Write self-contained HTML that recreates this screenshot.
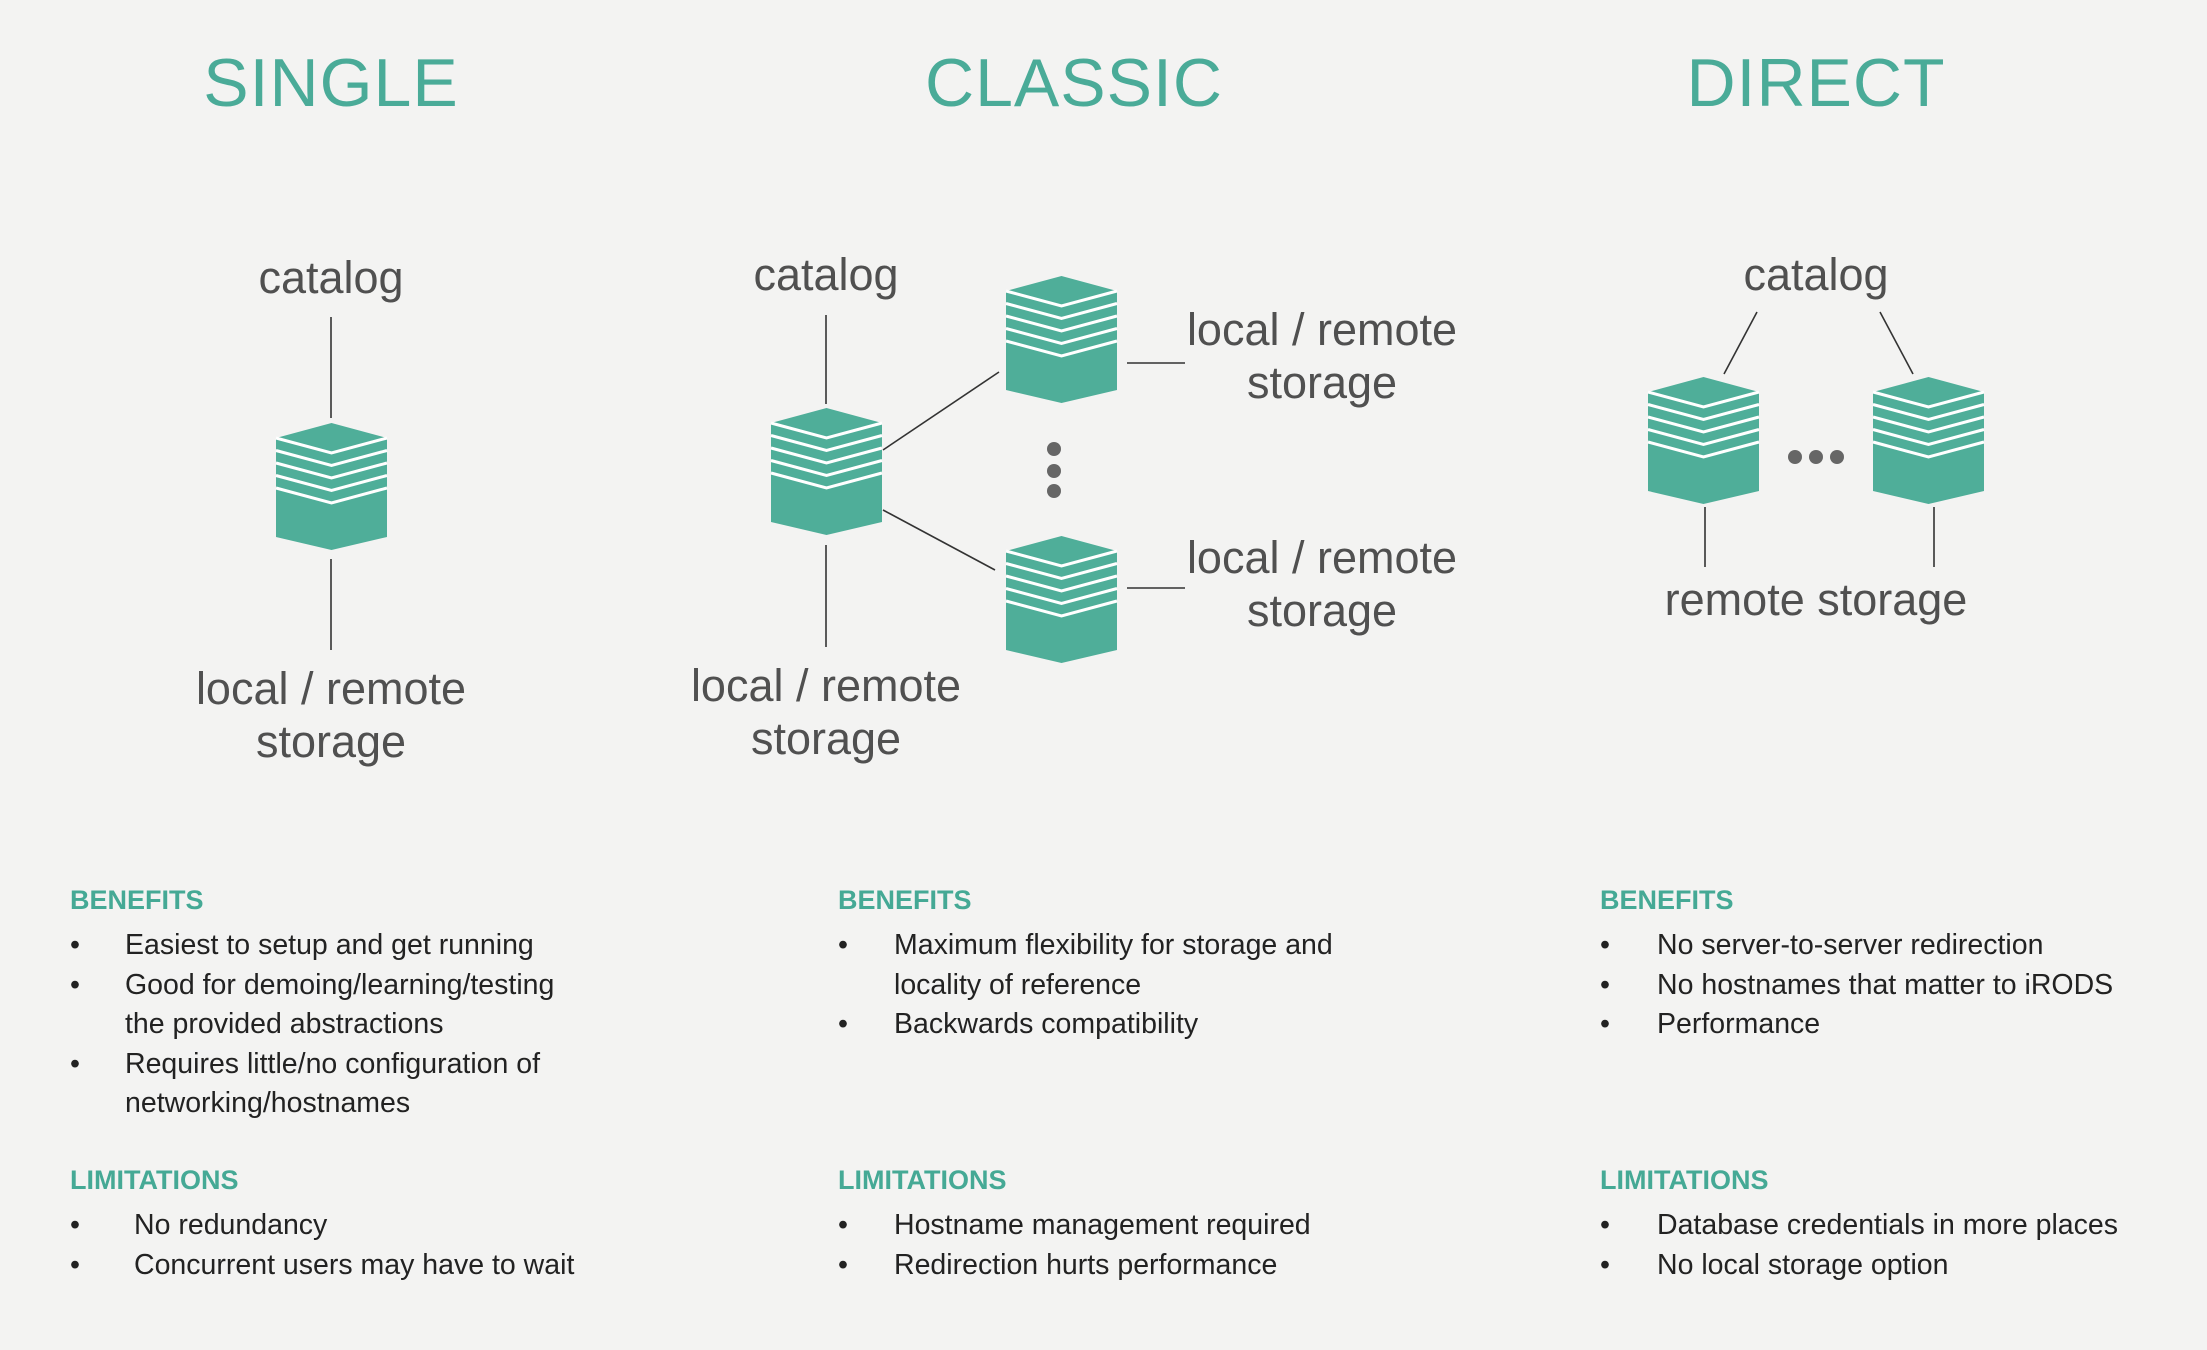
<!DOCTYPE html>
<html><head><meta charset="utf-8"><style>
html,body{margin:0;padding:0;background:#f3f3f2;}
svg{display:block;}
text{font-family:"Liberation Sans",sans-serif;}
.t{fill:#4aab98;font-size:68px;letter-spacing:1px;text-anchor:middle;}
.l{fill:#505050;font-size:45px;text-anchor:middle;}
.h{fill:#45a995;font-size:27px;font-weight:bold;}
.b{fill:#222;font-size:28.5px;}
.ln{stroke:#333;stroke-width:1.6;fill:none;}
</style></head><body>
<svg width="2207" height="1350" viewBox="0 0 2207 1350" xmlns="http://www.w3.org/2000/svg">
<defs>
<g id="cube">
<polygon points="55.5,0 111,15 111,114 55.5,127 0,114 0,15" fill="#4fae99"/>
<g stroke="#fff" stroke-width="3" fill="none">
<polyline points="0,15 55.5,30 111,15"/>
<polyline points="0,27.5 55.5,42.5 111,27.5"/>
<polyline points="0,40 55.5,55 111,40"/>
<polyline points="0,52.5 55.5,67.5 111,52.5"/>
<polyline points="0,65 55.5,80 111,65"/>
</g>
</g>
</defs>

<text class="t" x="331" y="106">SINGLE</text>
<text class="t" x="1074" y="106">CLASSIC</text>
<text class="t" x="1816" y="106">DIRECT</text>

<!-- SINGLE -->
<text class="l" x="331" y="293">catalog</text>
<line class="ln" x1="331" y1="317" x2="331" y2="418"/>
<use href="#cube" x="276" y="423"/>
<line class="ln" x1="331" y1="559" x2="331" y2="650"/>
<text class="l" x="331" y="704">local / remote</text>
<text class="l" x="331" y="757">storage</text>

<!-- CLASSIC -->
<text class="l" x="826" y="290">catalog</text>
<line class="ln" x1="826" y1="315" x2="826" y2="404"/>
<use href="#cube" x="771" y="408"/>
<line class="ln" x1="826" y1="545" x2="826" y2="647"/>
<text class="l" x="826" y="701">local / remote</text>
<text class="l" x="826" y="754">storage</text>
<use href="#cube" x="1006" y="276"/>
<use href="#cube" x="1006" y="536"/>
<line class="ln" x1="883" y1="450" x2="999" y2="372"/>
<line class="ln" x1="883" y1="510" x2="995" y2="570"/>
<line class="ln" x1="1127" y1="363" x2="1185" y2="363"/>
<line class="ln" x1="1127" y1="588" x2="1185" y2="588"/>
<text class="l" x="1322" y="345">local / remote</text>
<text class="l" x="1322" y="398">storage</text>
<text class="l" x="1322" y="573">local / remote</text>
<text class="l" x="1322" y="626">storage</text>
<circle cx="1054" cy="449" r="7" fill="#666"/>
<circle cx="1054" cy="471" r="7" fill="#666"/>
<circle cx="1054" cy="491" r="7" fill="#666"/>

<!-- DIRECT -->
<text class="l" x="1816" y="290">catalog</text>
<line class="ln" x1="1757" y1="312" x2="1724" y2="374"/>
<line class="ln" x1="1880" y1="312" x2="1913" y2="374"/>
<use href="#cube" x="1648" y="377"/>
<use href="#cube" x="1873" y="377"/>
<circle cx="1795" cy="457" r="7" fill="#666"/>
<circle cx="1816" cy="457" r="7" fill="#666"/>
<circle cx="1837" cy="457" r="7" fill="#666"/>
<line class="ln" x1="1705" y1="507" x2="1705" y2="567"/>
<line class="ln" x1="1934" y1="507" x2="1934" y2="567"/>
<text class="l" x="1816" y="615">remote storage</text>

<!-- Col 1 -->
<text class="h" x="70" y="909">BENEFITS</text>
<g class="b">
<text x="70" y="954">•</text><text x="125" y="954">Easiest to setup and get running</text>
<text x="70" y="994">•</text><text x="125" y="994">Good for demoing/learning/testing</text>
<text x="125" y="1033">the provided abstractions</text>
<text x="70" y="1073">•</text><text x="125" y="1073">Requires little/no configuration of</text>
<text x="125" y="1112">networking/hostnames</text>
</g>
<text class="h" x="70" y="1189">LIMITATIONS</text>
<g class="b">
<text x="70" y="1234">•</text><text x="134" y="1234">No redundancy</text>
<text x="70" y="1274">•</text><text x="134" y="1274">Concurrent users may have to wait</text>
</g>

<!-- Col 2 -->
<text class="h" x="838" y="909">BENEFITS</text>
<g class="b">
<text x="838" y="954">•</text><text x="894" y="954">Maximum flexibility for storage and</text>
<text x="894" y="994">locality of reference</text>
<text x="838" y="1033">•</text><text x="894" y="1033">Backwards compatibility</text>
</g>
<text class="h" x="838" y="1189">LIMITATIONS</text>
<g class="b">
<text x="838" y="1234">•</text><text x="894" y="1234">Hostname management required</text>
<text x="838" y="1274">•</text><text x="894" y="1274">Redirection hurts performance</text>
</g>

<!-- Col 3 -->
<text class="h" x="1600" y="909">BENEFITS</text>
<g class="b">
<text x="1600" y="954">•</text><text x="1657" y="954">No server-to-server redirection</text>
<text x="1600" y="994">•</text><text x="1657" y="994">No hostnames that matter to iRODS</text>
<text x="1600" y="1033">•</text><text x="1657" y="1033">Performance</text>
</g>
<text class="h" x="1600" y="1189">LIMITATIONS</text>
<g class="b">
<text x="1600" y="1234">•</text><text x="1657" y="1234">Database credentials in more places</text>
<text x="1600" y="1274">•</text><text x="1657" y="1274">No local storage option</text>
</g>
</svg>
</body></html>
